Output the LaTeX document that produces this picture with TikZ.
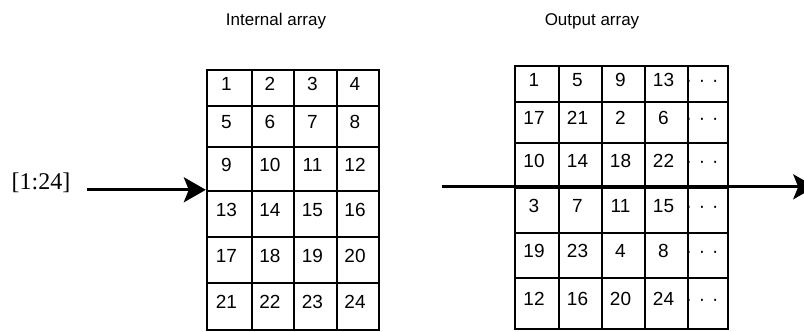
\documentclass[tikz,border=0pt]{standalone}
\usepackage{fontspec}
\setmainfont{Liberation Sans}
\newfontfamily\timesfont{Liberation Serif}
\usepackage{tikz}
\usetikzlibrary{arrows.meta, positioning}
\newcommand\dotsrow{·\hspace{7pt}·\hspace{7pt}·}

\begin{document}
\begin{tikzpicture}[
  x=1pt, y=-1pt,
  cell/.style={draw, line width=2.4pt, inner sep=0pt},
  num/.style={anchor=base, inner sep=0pt, font=\fontsize{19}{19}\selectfont},
  title/.style={anchor=base, inner sep=0pt, font=\fontsize{17}{17}\selectfont},
  arr/.style={-{Stealth[length=22pt, width=25pt, inset=5pt]}, line width=2.8pt},
]
\useasboundingbox (0,0) rectangle (804,332);

% Titles
\node[title] (intitle)  at (276,25) {Internal array};
\node[title] (outtitle) at (592,25) {Output array};

% Internal array
\foreach \r/\ya/\yb in {1/70/106, 2/106/147, 3/147/191, 4/191/237, 5/237/283, 6/283/330}
  \foreach \c/\xa/\xb in {1/207/252, 2/252/294, 3/294/337, 4/337/379} {
    \pgfmathtruncatemacro\k{4*(\r-1)+\c}
    \node[cell, minimum width={(\xb-\xa)*1pt}, minimum height={(\yb-\ya)*1pt}]
      (in-\r-\c) at ({(\xa+\xb)/2}, {(\ya+\yb)/2}) {};
    \node[num] (in-\r-\c-v) at ([xshift=-3pt, yshift=-2pt]in-\r-\c.center) {\k};
  }

% Output array
\foreach \r/\ya/\yb/\vals in {1/66/102/{1,5,9,13}, 2/102/143/{17,21,2,6},
    3/143/188/{10,14,18,22}, 4/188/233/{3,7,11,15},
    5/233/278/{19,23,4,8}, 6/278/329/{12,16,20,24}} {
  \foreach \v [count=\c] in \vals {
    \pgfmathsetmacro\xa{{515,559,602,645}[\c-1]}
    \pgfmathsetmacro\xb{{559,602,645,688}[\c-1]}
    \node[cell, minimum width={(\xb-\xa)*1pt}, minimum height={(\yb-\ya)*1pt}]
      (out-\r-\c) at ({(\xa+\xb)/2}, {(\ya+\yb)/2}) {};
    \node[num] (out-\r-\c-v) at ([xshift=-3pt, yshift=-2pt]out-\r-\c.center) {\v};
  }
  % last column
  \node[cell, minimum width=40pt, minimum height={(\yb-\ya)*1pt}]
    (out-\r-5) at (708, {(\ya+\yb)/2}) {};
  \node[num] (out-\r-5-v) at ([xshift=-6pt, yshift=-2pt]out-\r-5.center) {\dotsrow};
}

% Input label and arrows
\node[anchor=base, inner sep=0pt, font=\timesfont\fontsize{24}{24}\selectfont]
  (inlbl) at (41,189) {[1:24]};
\coordinate (instart)  at ([xshift=-119pt]in-4-1.north west);
\coordinate (outstart) at ([xshift=-72pt]out-4-1.north west);
\coordinate (outend)   at ([xshift=86pt]out-4-5.north east);

\draw[arr] (instart)  -- (in-4-1.north west);
\draw[arr] (outstart) -- (outend);

\end{tikzpicture}
\end{document}
